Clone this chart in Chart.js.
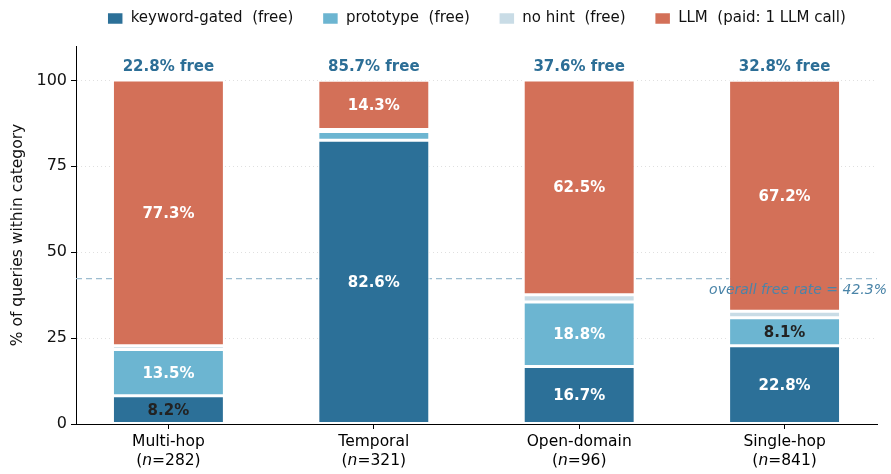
<!DOCTYPE html>
<html>
<head>
<meta charset="utf-8">
<script src="https://cdn.jsdelivr.net/npm/chart.js@4"></script>
<style>
  html, body { margin: 0; padding: 0; background: #fff; }
  #wrap { width: 891px; height: 474px; }
</style>
</head>
<body>
<div id="wrap"><canvas id="c" width="891" height="474"></canvas></div>
<script>
// data
var categories = ['Multi-hop', 'Temporal', 'Open-domain', 'Single-hop'];
var counts = [282, 321, 96, 841];
var keywordGated = [8.2, 82.6, 16.7, 22.8];
var prototype = [13.5, 2.5, 18.8, 8.1];
var noHint = [1.1, 0.6, 2.1, 1.9];
var llm = [77.3, 14.3, 62.5, 67.2];
var freeRate = [22.8, 85.7, 37.6, 32.8];
var overallFree = 42.3;
var yTicks = [0, 25, 50, 75, 100];

var FONT = "'DejaVu Sans', sans-serif";
var colors = ['#2c7098', '#6cb5d1', '#c9dce6', '#d37058'];

function pts(arr) {
    return arr.map(function (v, i) { return { x: i, y: v }; });
}

function ds(label, arr, color) {
    return {
        label: label,
        data: pts(arr),
        backgroundColor: color,
        borderColor: '#ffffff',
        borderWidth: 1.5,
        borderSkipped: false,
        categoryPercentage: 1,
        barPercentage: 0.545,
    };
}

// extra room under the legend
var legendGap = {
    id: 'legendGap',
    beforeLayout: function (chart) {
        var lg = chart.legend;
        if (lg && !lg._gap) {
            var fit = lg.fit;
            lg.fit = function () { fit.call(this); this.height += 10; };
            lg._gap = true;
        }
    }
};

// dashed overall line behind bars, labels on top
var overlay = {
    id: 'overlay',
    beforeDatasetsDraw: function (chart) {
        var ctx = chart.ctx, a = chart.chartArea, y = chart.scales.y.getPixelForValue(overallFree);
        ctx.save();
        ctx.strokeStyle = '#9dbdd0';
        ctx.lineWidth = 1.2;
        ctx.setLineDash([6, 4]);
        ctx.beginPath();
        ctx.moveTo(a.left, y);
        ctx.lineTo(a.right, y);
        ctx.stroke();
        ctx.restore();
    },
    afterDatasetsDraw: function (chart) {
        var ctx = chart.ctx, xs = chart.scales.x, ys = chart.scales.y;
        ctx.save();
        ctx.textAlign = 'center';
        ctx.textBaseline = 'middle';
        // segment labels
        var series = [keywordGated, prototype, noHint, llm];
        for (var i = 0; i < categories.length; i++) {
            var base = 0;
            var cx = xs.getPixelForValue(i);
            series.forEach(function (s) {
                var v = s[i];
                if (v >= 5) {
                    ctx.font = 'bold 15px ' + FONT;
                    ctx.fillStyle = v < 10 ? '#222222' : '#ffffff';
                    ctx.fillText(v.toFixed(1) + '%', cx, ys.getPixelForValue(base + v / 2) + 1);
                }
                base += v;
            });
            // free rate on top
            ctx.font = 'bold 15px ' + FONT;
            ctx.fillStyle = '#2c6e96';
            ctx.fillText(freeRate[i].toFixed(1) + '% free', cx, ys.getPixelForValue(100) - 13.5);
        }
        // overall text
        ctx.font = 'italic 14px ' + FONT;
        ctx.fillStyle = '#4a84a8';
        ctx.textAlign = 'right';
        ctx.fillText('overall free rate = ' + overallFree.toFixed(1) + '%', 887, ys.getPixelForValue(overallFree) + 12);

        // x labels with italic n
        categories.forEach(function (c, i) {
            var cx = xs.getPixelForValue(i), top = xs.top + 18;
            ctx.textAlign = 'center';
            ctx.font = '15.5px ' + FONT;
            ctx.fillStyle = '#000';
            ctx.fillText(c, cx, top);
            var p1 = '(', n = 'n', p2 = '=' + counts[i] + ')';
            ctx.font = '15.5px ' + FONT;
            var w1 = ctx.measureText(p1).width, w3 = ctx.measureText(p2).width;
            ctx.font = 'italic 15.5px ' + FONT;
            var w2 = ctx.measureText(n).width;
            var x0 = cx - (w1 + w2 + w3) / 2, y2 = top + 19;
            ctx.textAlign = 'left';
            ctx.font = '15.5px ' + FONT;
            ctx.fillText(p1, x0, y2);
            ctx.font = 'italic 15.5px ' + FONT;
            ctx.fillText(n, x0 + w1, y2);
            ctx.font = '15.5px ' + FONT;
            ctx.fillText(p2, x0 + w1 + w2, y2);
        });
        ctx.restore();
    }
};

new Chart(document.getElementById('c'), {
    type: 'bar',
    data: {
        datasets: [
            ds('keyword-gated  (free)', keywordGated, colors[0]),
            ds('prototype  (free)', prototype, colors[1]),
            ds('no hint  (free)', noHint, colors[2]),
            ds('LLM  (paid: 1 LLM call)', llm, colors[3]),
        ]
    },
    options: {
        responsive: false,
        animation: false,
        layout: { padding: { left: 9, right: 14, top: -18, bottom: 0 } },
        plugins: {
            tooltip: { enabled: false },
            legend: {
                position: 'top',
                fullSize: false,
                labels: {
                    font: { family: FONT, size: 15 },
                    color: '#111',
                    boxWidth: 16,
                    boxHeight: 12,
                    padding: 29,
                }
            }
        },
        scales: {
            x: {
                type: 'linear',
                stacked: true,
                offset: false,
                min: -0.45,
                max: 3.45,
                afterBuildTicks: function (s) { s.ticks = [0, 1, 2, 3].map(function (v) { return { value: v }; }); },
                afterFit: function (s) { s.height = 50; },
                ticks: { callback: function () { return ''; } },
                grid: { display: true, drawOnChartArea: false, tickLength: 5, color: '#000', tickColor: '#000', offset: false },
                border: { color: '#000', width: 1 },
            },
            y: {
                stacked: true,
                min: 0,
                max: 110,
                afterBuildTicks: function (s) { s.ticks = yTicks.map(function (v) { return { value: v }; }); },
                afterFit: function (s) { s.width = 67; },
                ticks: { font: { family: FONT, size: 16 }, color: '#111', padding: 4 },
                grid: { color: '#e0e0e0', tickColor: '#000', tickLength: 5, lineWidth: 1 },
                border: { color: '#000', width: 1, dash: [1, 3] },
                title: { display: true, text: '% of queries within category', font: { family: FONT, size: 15.5 }, color: '#111', padding: { top: 0, bottom: 4 } },
            }
        }
    },
    plugins: [legendGap, overlay]
});
</script>
</body>
</html>
